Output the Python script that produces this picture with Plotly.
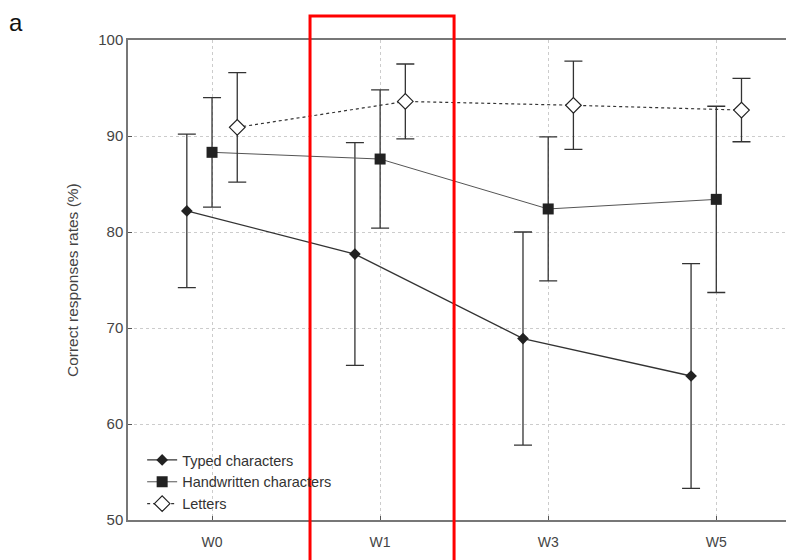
import plotly.graph_objects as go

weeks = ["W0", "W1", "W3", "W5"]
week_pos = [0, 1, 2, 3]

typed_vals = [82.2, 77.7, 68.9, 65.0]
typed_err = [8.0, 11.6, 11.1, 11.7]

hand_vals = [88.3, 87.6, 82.4, 83.4]
hand_err = [5.7, 7.2, 7.5, 9.7]

letter_vals = [90.9, 93.6, 93.2, 92.7]
letter_err = [5.7, 3.9, 4.6, 3.3]

offsets = {"typed": -0.15, "hand": 0.0, "letters": 0.15}

FONT = "Liberation Sans, Arial, sans-serif"
ink = "#222222"

fig = go.Figure()

fig.add_trace(go.Scatter(
    x=[p + offsets["typed"] for p in week_pos], y=typed_vals,
    name="Typed characters", mode="lines+markers",
    line=dict(color="#333333", width=1.3),
    marker=dict(symbol="diamond", size=9, color=ink),
    error_y=dict(type="data", array=typed_err, color="#333333", thickness=1.3, width=9),
))
fig.add_trace(go.Scatter(
    x=[p + offsets["hand"] for p in week_pos], y=hand_vals,
    name="Handwritten characters", mode="lines+markers",
    line=dict(color="#555555", width=1),
    marker=dict(symbol="square", size=11, color=ink),
    error_y=dict(type="data", array=hand_err, color="#333333", thickness=1.3, width=9),
))
fig.add_trace(go.Scatter(
    x=[p + offsets["letters"] for p in week_pos], y=letter_vals,
    name="Letters", mode="lines+markers",
    line=dict(color="#333333", width=1.2, dash="dot"),
    marker=dict(symbol="diamond", size=12, color="white", line=dict(color=ink, width=1.2)),
    error_y=dict(type="data", array=letter_err, color="#333333", thickness=1.3, width=9),
))

fig.update_layout(
    width=794, height=560,
    margin=dict(l=120, r=0, t=32, b=48),
    paper_bgcolor="white", plot_bgcolor="white",
    font=dict(family=FONT, color="#444444", size=14),
    showlegend=True,
    legend=dict(x=0.021, y=0.0, xanchor="left", yanchor="bottom",
                bgcolor="rgba(0,0,0,0)", font=dict(size=14.5, color="#333333"),
                tracegroupgap=0, itemwidth=30),
    xaxis=dict(
        range=[-0.5, 3.51], tickmode="array", tickvals=week_pos, ticktext=weeks,
        showline=True, linecolor="#777777", linewidth=1.5, mirror=True,
        ticks="inside", ticklen=4, tickcolor="#555555",
        showgrid=True, gridcolor="#cccccc", griddash="dot", gridwidth=1,
        zeroline=False, tickfont=dict(size=14, color="#444444"),
        ticklabelstandoff=8,
    ),
    yaxis=dict(
        range=[50, 100], tickmode="array", tickvals=[50, 60, 70, 80, 90, 100],
        showline=True, linecolor="#777777", linewidth=1.5,
        ticks="inside", ticklen=4, tickcolor="#555555",
        showgrid=True, gridcolor="#cccccc", griddash="dot", gridwidth=1,
        zeroline=False, tickfont=dict(size=15, color="#444444"),
    ),
)

fig.add_annotation(text="Correct responses rates (%)", xref="paper", yref="paper",
                   x=-0.083, y=0.5, textangle=-90, showarrow=False,
                   font=dict(size=15.5, color="#444444"), xanchor="center", yanchor="middle")
fig.add_annotation(text="a", xref="paper", yref="paper",
                   x=-0.166, y=1.0667, showarrow=False, borderpad=0,
                   font=dict(size=24, color="#111111"), xanchor="center", yanchor="top")

fig.add_shape(type="rect", xref="x", yref="paper",
              x0=0.583, x1=1.44, y0=-0.12, y1=1.05,
              line=dict(color="red", width=3), fillcolor="rgba(0,0,0,0)", layer="above")

fig.write_html("out.html")
